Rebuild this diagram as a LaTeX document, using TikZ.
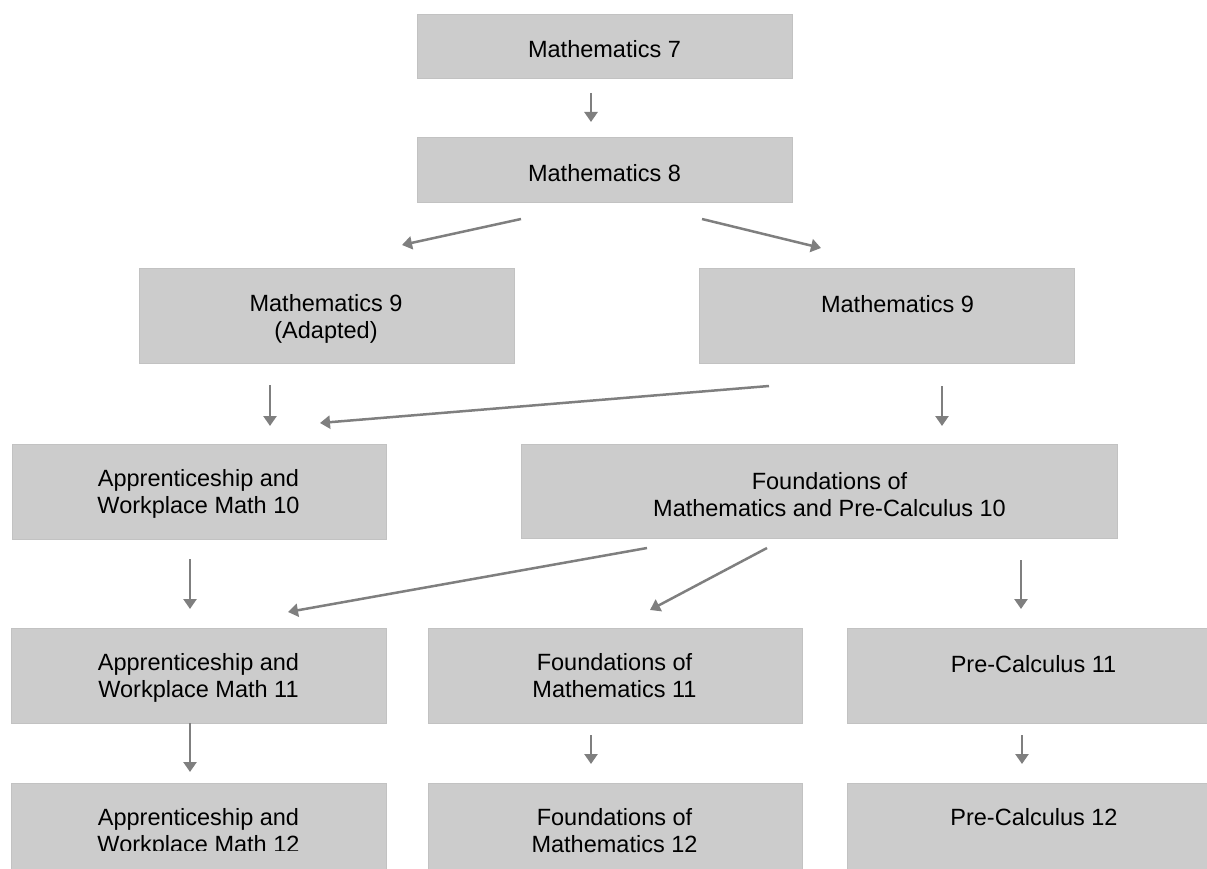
\documentclass[tikz,border=0pt]{standalone}
\usepackage{fontspec}
\setmainfont{Liberation Sans}
\usetikzlibrary{arrows.meta}
\definecolor{boxfill}{HTML}{CCCCCC}
\definecolor{boxline}{HTML}{C2C2C2}
\definecolor{arrcol}{HTML}{7F7F7F}
\begin{document}
\begin{tikzpicture}[x=1pt,y=-1pt,
  box/.style={draw=boxline, fill=boxfill, line width=1pt, inner sep=0pt, minimum height=95pt, minimum width=375pt},
  lbl/.style={font=\fontsize{23.5}{27.7}\selectfont, align=center, inner sep=0pt, anchor=north, text=black},
  arr/.style={draw=arrcol, line width=2.5pt, -{Triangle[width=13pt,length=10pt]}}]
\useasboundingbox (0,0) rectangle (1207,869);
\clip (0,0) rectangle (1207,869);
% boxes
\node[box, minimum height=64pt] (m7) at (604.5,47) {};
\node[box, minimum height=65pt] (m8) at (604.5,170.5) {};
\node[box] (m9a) at (326.5,315.5) {};
\node[box] (m9) at (886.5,315.5) {};
\node[box, minimum width=374pt] (aw10) at (199,491.5) {};
\node[box, minimum width=596pt, minimum height=94pt] (fm10) at (819,491) {};
\node[box] (aw11) at (198.5,675.5) {};
\node[box, minimum width=374pt] (fm11) at (615,675.5) {};
\node[box, minimum width=400pt] (pc11) at (1047,675.5) {};
\node[box, minimum height=110pt] (aw12) at (198.5,838) {};
\node[box, minimum width=374pt, minimum height=110pt] (fm12) at (615,838) {};
\node[box, minimum width=400pt, minimum height=110pt] (pc12) at (1047,838) {};
% labels
\node[lbl] (t7) at (604.5,39) {\rule{0pt}{18pt}Mathematics 7};
\node[lbl] (t8) at (604.5,163) {\rule{0pt}{18pt}Mathematics 8};
\node[lbl] (t9a) at (326,293) {\rule{0pt}{18pt}Mathematics 9\\(Adapted)};
\node[lbl] (t9) at (897.5,294) {\rule{0pt}{18pt}Mathematics 9};
\node[lbl] (taw10) at (198.5,468) {\rule{0pt}{18pt}Apprenticeship and\\Workplace Math 10};
\node[lbl] (tfm10) at (829.5,471) {\rule{0pt}{18pt}Foundations of\\Mathematics and Pre-Calculus 10};
\node[lbl] (taw11) at (198.5,652) {\rule{0pt}{18pt}Apprenticeship and\\Workplace Math 11};
\node[lbl] (tfm11) at (614.5,652) {\rule{0pt}{18pt}Foundations of\\Mathematics 11};
\node[lbl] (tpc11) at (1033.5,654) {\rule{0pt}{18pt}Pre-Calculus 11};
\begin{scope}
\clip (11,783) rectangle (386,850);
\node[lbl] (taw12) at (198.5,807) {\rule{0pt}{18pt}Apprenticeship and\\Workplace Math 12};
\end{scope}
\node[lbl] (tfm12) at (614.5,807) {\rule{0pt}{18pt}Foundations of\\Mathematics 12};
\node[lbl] (tpc12) at (1034,807) {\rule{0pt}{18pt}Pre-Calculus 12};
% arrow end points
\coordinate (a1s) at (591,93);   \coordinate (a1e) at (591,122);
\coordinate (a2s) at (521,219);  \coordinate (a2e) at (402,245);
\coordinate (a3s) at (702,219);  \coordinate (a3e) at (821,248);
\coordinate (a4s) at (270,385);  \coordinate (a4e) at (270,426);
\coordinate (a5s) at (769,386);  \coordinate (a5e) at (320,423);
\coordinate (a6s) at (942,386);  \coordinate (a6e) at (942,426);
\coordinate (a7s) at (190,559);  \coordinate (a7e) at (190,609);
\coordinate (a8s) at (647,548);  \coordinate (a8e) at (288,612);
\coordinate (a9s) at (767,548);  \coordinate (a9e) at (650,610);
\coordinate (a10s) at (1021,560); \coordinate (a10e) at (1021,609);
\coordinate (a11s) at (190,723); \coordinate (a11e) at (190,772);
\coordinate (a12s) at (591,735); \coordinate (a12e) at (591,764);
\coordinate (a13s) at (1022,735); \coordinate (a13e) at (1022,764);
% arrows
\foreach \i in {1,...,13} {\draw[arr] (a\i s) -- (a\i e);}
\end{tikzpicture}
\end{document}
